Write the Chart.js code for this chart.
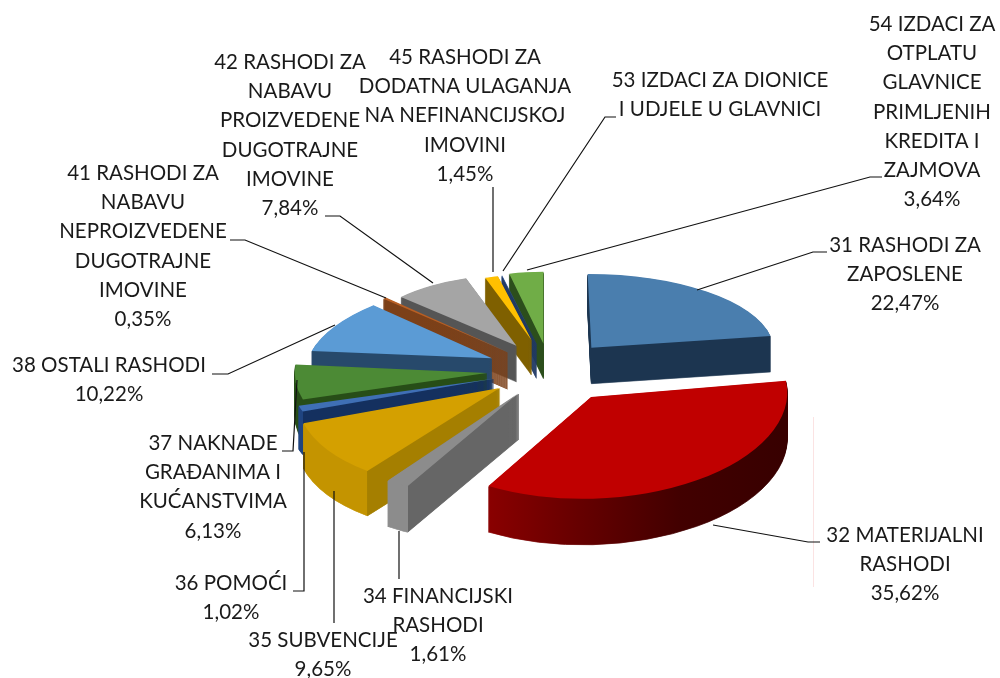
<!DOCTYPE html>
<html>
<head>
<meta charset="utf-8">
<title>Rashodi i izdaci</title>
<script src="https://cdn.jsdelivr.net/npm/chart.js@4/dist/chart.umd.js"></script>
<style>
  html, body { margin: 0; padding: 0; background: #fff; }
  canvas { display: block; }
</style>
</head>
<body>
<canvas id="pieChart" width="1000" height="678"></canvas>
<script>
// Data (53 has no printed percentage, only a hairline slice)
const categories = [
    ['31 RASHODI ZA', 'ZAPOSLENE'],
    ['32 MATERIJALNI', 'RASHODI'],
    ['34 FINANCIJSKI', 'RASHODI'],
    ['35 SUBVENCIJE'],
    ['36 POMOĆI'],
    ['37 NAKNADE', 'GRAĐANIMA I', 'KUĆANSTVIMA'],
    ['38 OSTALI RASHODI'],
    ['41 RASHODI ZA', 'NABAVU', 'NEPROIZVEDENE', 'DUGOTRAJNE', 'IMOVINE'],
    ['42 RASHODI ZA', 'NABAVU', 'PROIZVEDENE', 'DUGOTRAJNE', 'IMOVINE'],
    ['45 RASHODI ZA', 'DODATNA ULAGANJA', 'NA NEFINANCIJSKOJ', 'IMOVINI'],
    ['53 IZDACI ZA DIONICE', 'I UDJELE U GLAVNICI'],
    ['54 IZDACI ZA', 'OTPLATU', 'GLAVNICE', 'PRIMLJENIH', 'KREDITA I', 'ZAJMOVA']
];
const shares = [22.47, 35.62, 1.61, 9.65, 1.02, 6.13, 10.22, 0.35, 7.84, 1.45, 0.05, 3.64];
const shareLabels = ['22,47%', '35,62%', '1,61%', '9,65%', '1,02%', '6,13%', '10,22%', '0,35%', '7,84%', '1,45%', '', '3,64%'];

// Colours
const topColors = ['#4a7eae', '#c00000', '#8c8c8c', '#d4a000', '#3f6fb5', '#4c8a35', '#5b9bd5', '#b85f24', '#a5a5a5', '#ffc000', '#2f5597', '#70ad47'];
const wallColors = ['#1c3550', '#380000', '#666666', '#a57f00', '#14305f', '#274d17', '#27496b', '#7c4018', '#555555', '#7f6000', '#1f3864', '#2c4e1c'];
const rimColors = [
    ['#1c3550'],
    ['#8b0000', '#8b0000', '#650000', '#420000', '#380000'],
    ['#8c8c8c'],
    ['#c49400'],
    ['#1f4480'],
    ['#274d17'],
    ['#27496b'],
    ['#7c4018'],
    ['#555555'],
    ['#7f6000'],
    ['#1f3864'],
    ['#2c4e1c']
];

// Where the labels sit: centre x, y of first line
const labelPos = [
    [905, 245], [905, 535], [438, 596], [323, 640], [231, 583], [213, 443],
    [109, 365], [143, 173], [290, 62], [465, 57], [720, 80], [932, 24]
];
const leaderLines = [
    [[697, 290], [813, 252], [827, 252]],
    [[713, 525], [808, 542], [820, 542]],
    [[399, 531], [399, 579]],
    [[334, 491], [334, 623]],
    [[304, 452], [304, 591], [293, 591]],
    [[297, 380], [293, 451], [282, 451]],
    [[335, 325], [228, 374], [212, 374]],
    [[386, 298], [245, 240], [230, 240]],
    [[433, 283], [340, 216], [325, 216]],
    [[493, 272], [493, 187]],
    [[503, 271], [605, 117], [616, 117]],
    [[527, 270], [870, 177], [882, 177]]
];

// Fake 3D settings, the last four are per slice tweaks for the perspective of the original
const pieCenter = { x: 550, y: 370 };
const tilt = 0.46;
const perspective = 0.1;
const depth = 41;
const depthPerspective = 0.15;
const explode = [69, 66, 55, 60, 58, 63, 66, 62, 68, 75, 66, 64];
const stretchX = [1, 0.92, 1.07, 0.965, 1, 0.965, 0.97, 0.91, 0.88, 0.82, 0.85, 0.85];
const stretchY = [0.88, 1.04, 1.08, 1.05, 1, 1, 0.91, 0.94, 0.86, 0.8, 0.85, 0.88];
const shear = [0.02, -0.04, 0, -0.1, 0, 0, -0.14, 0, 0, 0, 0, 0];

function sideFill(ctx, arc, i) {
    const r = arc.outerRadius;
    const g = ctx.createLinearGradient(arc.x - r, 0, arc.x + r, 0);
    const corner = (Math.cos(arc.startAngle) + 1) / 2;
    const rim = rimColors[i];
    if (rim.length === 1) {
        g.addColorStop(0, rim[0]);
    } else {
        rim.forEach((c, n) => g.addColorStop(corner * n / (rim.length - 1), c));
    }
    g.addColorStop(corner, rim[rim.length - 1]);
    g.addColorStop(corner, wallColors[i]);
    g.addColorStop(1, wallColors[i]);
    return g;
}

const tiltedPie = {
    id: 'tiltedPie',
    beforeDatasetsDraw(chart) {
        const ctx = chart.ctx;
        const arcs = chart.getDatasetMeta(0).data.map((arc, i) => ({ arc, i }));
        const mid = a => (a.arc.startAngle + a.arc.endAngle) / 2;
        arcs.sort((a, b) => Math.sin(mid(a)) - Math.sin(mid(b)));

        arcs.forEach(({ arc, i }) => {
            const base = arc.options;
            const m = mid({ arc });
            const s = 1 + perspective * Math.sin(m);
            const steps = Math.round(depth * (1 + depthPerspective * Math.sin(m)));
            const side = sideFill(ctx, arc, i);
            const wall = Object.assign({}, base, { backgroundColor: side, borderColor: side, borderWidth: 1, borderJoinStyle: 'round' });
            const top = Object.assign({}, base, { backgroundColor: topColors[i] });
            const ox = pieCenter.x + s * explode[i] * Math.cos(m);
            const oy = pieCenter.y + s * tilt * explode[i] * Math.sin(m);
            for (let d = steps; d >= 0; d--) {
                ctx.save();
                ctx.translate(ox, oy + d);
                ctx.transform(s * stretchX[i], 0, s * shear[i], s * tilt * stretchY[i], 0, 0);
                ctx.translate(-arc.x, -arc.y);
                arc.options = d === 0 ? top : wall;
                arc.draw(ctx);
                ctx.restore();
            }
            arc.options = base;
        });
        return false;
    },
    afterDraw(chart) {
        const ctx = chart.ctx;
        ctx.save();

        // faint scan artefact right of the big slice
        ctx.strokeStyle = '#fbe3e3';
        ctx.lineWidth = 1;
        ctx.beginPath();
        ctx.moveTo(813.5, 417);
        ctx.lineTo(813.5, 587);
        ctx.stroke();

        ctx.strokeStyle = '#111';
        ctx.lineWidth = 1.2;
        leaderLines.forEach(line => {
            ctx.beginPath();
            line.forEach((p, n) => n === 0 ? ctx.moveTo(p[0], p[1]) : ctx.lineTo(p[0], p[1]));
            ctx.stroke();
        });

        ctx.fillStyle = '#1a1a1a';
        ctx.font = '20.5px Lato';
        ctx.textAlign = 'center';
        ctx.textBaseline = 'middle';
        categories.forEach((lines, i) => {
            const all = shareLabels[i] ? lines.concat(shareLabels[i]) : lines;
            all.forEach((t, n) => ctx.fillText(t, labelPos[i][0], labelPos[i][1] + n * 29.3));
        });
        ctx.restore();
    }
};

new Chart(document.getElementById('pieChart').getContext('2d'), {
    type: 'pie',
    data: {
        labels: categories.map(c => c.join(' ')),
        datasets: [{
            data: shares,
            backgroundColor: topColors,
            borderWidth: 0
        }]
    },
    options: {
        responsive: false,
        animation: false,
        radius: 197,
        plugins: {
            legend: { display: false },
            tooltip: { enabled: false }
        }
    },
    plugins: [tiltedPie]
});
</script>
</body>
</html>
